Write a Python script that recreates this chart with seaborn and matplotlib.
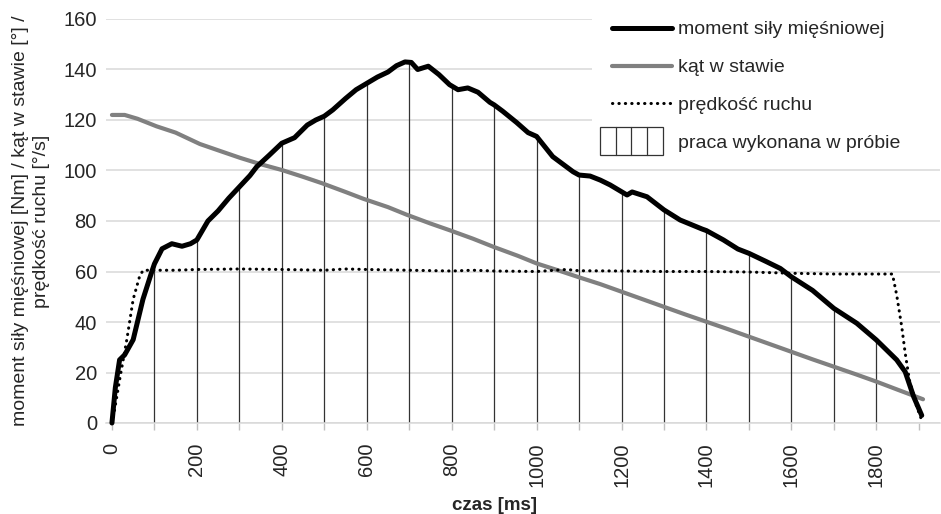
import numpy as np
import pandas as pd
import matplotlib
matplotlib.use("Agg")
import matplotlib.pyplot as plt
from matplotlib.lines import Line2D
from matplotlib.patches import Rectangle, Patch
from matplotlib.legend_handler import HandlerBase
import seaborn as sns

sns.set_theme(style="white")
plt.rcParams['font.family'] = ['Liberation Sans', 'DejaVu Sans']

# moment siły mięśniowej [Nm]
torque_t = [0, 8, 18, 30, 50, 73, 94, 100, 118, 141, 165, 185, 200, 226, 250, 275,
            300, 325, 341, 370, 400, 430, 460, 480, 500, 520, 550, 575, 600, 625,
            650, 670, 690, 705, 720, 745, 770, 795, 815, 838, 862, 890, 900, 920,
            953, 980, 1000, 1038, 1086, 1100, 1126, 1150, 1173, 1200, 1213, 1225,
            1260, 1300, 1338, 1390, 1400, 1440, 1474, 1500, 1540, 1574, 1600, 1650,
            1700, 1754, 1800, 1848, 1868, 1888, 1907]
torque_v = [0, 14, 25, 27, 33, 49, 60, 63, 69, 71, 70, 71, 72.5, 80, 84, 89,
            93.5, 98, 101.5, 106, 110.8, 113, 118, 120, 121.5, 124, 128.5, 132, 134.5, 137,
            139, 141.5, 143, 142.8, 140, 141.3, 138, 134, 132, 132.7, 131, 127, 126, 123.5,
            119, 115, 113.5, 105.5, 99.5, 98.2, 97.8, 96.2, 94.3, 91.6, 90.3, 91.5,
            89.6, 84.4, 80.4, 76.8, 76.2, 72.5, 68.9, 67.2, 64, 61.2, 57.9, 52.5,
            45.4, 39.5, 32.9, 25, 20.3, 10.4, 3]

# kąt w stawie [°]
angle_t = [0, 30, 60, 105, 150, 207, 250, 302, 350, 400, 450, 494, 550, 592, 650,
           694, 750, 796, 850, 898, 956, 1000, 1050, 1100, 1150, 1200, 1250, 1300,
           1350, 1400, 1450, 1500, 1550, 1600, 1650, 1700, 1750, 1800, 1850, 1910]
angle_v = [122, 122, 120.5, 117.5, 115, 110.5, 108, 105, 102.5, 100.2, 97.5, 95, 91.5,
           88.8, 85.5, 82.5, 79, 76.3, 73, 69.8, 66.2, 63.2, 60.5, 57.7, 55, 52, 49, 46,
           43, 40.1, 37.2, 34.2, 31.2, 28.2, 25.2, 22.3, 19.4, 16.4, 13.2, 9.4]

# prędkość ruchu [°/s]
speed_t = [0, 5, 19, 35, 50, 66, 74, 100, 150, 200, 300, 400, 500, 550, 600, 700,
           800, 850, 900, 1000, 1070, 1100, 1200, 1300, 1400, 1500, 1600, 1700, 1838,
           1848, 1860, 1868, 1878, 1895, 1905]
speed_v = [0, 4, 18, 33, 49, 58.6, 60.5, 60.5, 60.5, 60.8, 61, 60.8, 60.5, 61, 60.8,
           60.5, 60.2, 60.5, 60.2, 60, 60.8, 60.3, 60.2, 60, 60, 59.8, 59.3, 59, 59,
           50.7, 38, 27.7, 17, 6.5, 2]

work_t = list(range(100, 1801, 100))

labels = ['moment siły mięśniowej', 'kąt w stawie', 'prędkość ruchu',
          'praca wykonana w próbie']

DOT = (0, (0.1, 2.0))
TXT = '#262626'


class OffsetLineHandler(HandlerBase):
    def __init__(self, offset):
        super().__init__()
        self.offset = offset

    def create_artists(self, legend, orig_handle, xdescent, ydescent,
                       width, height, fontsize, trans):
        y = height / 2 - ydescent
        ln = Line2D([self.offset - xdescent, width - xdescent], [y, y])
        ln.update_from(orig_handle)
        ln.set_transform(trans)
        return [ln]


class WorkHandler(HandlerBase):
    def create_artists(self, legend, orig_handle, xdescent, ydescent,
                       width, height, fontsize, trans):
        w, h = 45.4, 20.2
        x0 = -xdescent
        y0 = height / 2 - ydescent - h / 2
        arts = [Rectangle((x0, y0), w, h, fc='white', ec='#333333', lw=0.9,
                          transform=trans)]
        for k in range(1, 4):
            xx = x0 + w * k / 4
            arts.append(Line2D([xx, xx], [y0, y0 + h], color='#333333', lw=0.9,
                               transform=trans))
        return arts


fig = plt.figure(figsize=(9.41, 5.14), dpi=100)
ax = fig.add_axes([106 / 941, 1 - 423 / 514, 834 / 941, 404 / 514])

work_top = np.interp(work_t, torque_t, torque_v)
ax.vlines(work_t, 0, work_top, colors='#333333', lw=0.9, zorder=2)

sns.lineplot(x=angle_t, y=angle_v, ax=ax, color='#808080', lw=3.0,
             estimator=None, sort=False, zorder=3, clip_on=False)
sns.lineplot(x=speed_t, y=speed_v, ax=ax, color='black', lw=2.2,
             estimator=None, sort=False, zorder=4, linestyle=DOT,
             dash_capstyle='round', clip_on=False)
sns.lineplot(x=torque_t, y=torque_v, ax=ax, color='black', lw=3.6,
             estimator=None, sort=False, zorder=5, clip_on=False,
             solid_capstyle='round', solid_joinstyle='round')

ax.set_xlim(-14, 1950)
ax.set_ylim(0, 160)
ax.set_yticks(range(0, 161, 20))
ax.set_xticks(range(0, 1801, 200))
ax.set_xticks(range(100, 1901, 200), minor=True)
ax.tick_params(axis='x', which='both', rotation=90, length=5, width=1,
               color='#bfbfbf', pad=9, labelsize=14.5, labelcolor=TXT,
               direction='out', bottom=True)
ax.tick_params(axis='y', length=0, pad=6.5, labelsize=14.5, labelcolor=TXT)
ax.grid(axis='y', color='#d9d9d9', lw=1.1, zorder=0)
ax.set_axisbelow(True)
for s in ['left', 'right', 'top']:
    ax.spines[s].set_visible(False)
ax.spines['bottom'].set_color('#d9d9d9')
ax.spines['bottom'].set_linewidth(1.1)

ax.set_xlabel('czas [ms]', fontsize=13.5, fontweight='bold', color=TXT)
ax.xaxis.set_label_coords((494 - 106) / 834, (423 - 505) / 404)
ax.xaxis.label.set_va('center')
ax.set_ylabel('moment siły mięśniowej [Nm] / kąt w stawie [°] /\nprędkość ruchu [°/s]',
              fontsize=14, color=TXT, linespacing=1.3)
ax.yaxis.set_label_coords((31 - 106) / 834, 0.5)
ax.yaxis.label.set_va('center')

h_torque = Line2D([], [], color='black', lw=3.6, solid_capstyle='round')
h_angle = Line2D([], [], color='#808080', lw=3.0)
h_speed = Line2D([], [], color='black', lw=2.2, linestyle=DOT, dash_capstyle='round')
h_work = Patch(fc='white', ec='#333333')
leg = ax.legend([h_torque, h_angle, h_speed, h_work], labels,
                handler_map={h_torque: OffsetLineHandler(8.6),
                             h_angle: OffsetLineHandler(8.6),
                             h_speed: OffsetLineHandler(8.6),
                             h_work: WorkHandler()},
                loc='upper left', mode='expand',
                bbox_to_anchor=(592 / 941, 0.5, 349 / 941, 0.4745),
                bbox_transform=fig.transFigure, borderaxespad=0,
                fontsize=14, handlelength=3.7, handletextpad=0.31,
                labelspacing=1.04, borderpad=0.4, frameon=True,
                facecolor='white', edgecolor='none', framealpha=1,
                fancybox=False)
for t in leg.get_texts():
    t.set_color(TXT)
leg.set_zorder(10)

fig.savefig('out.png', dpi=100)
